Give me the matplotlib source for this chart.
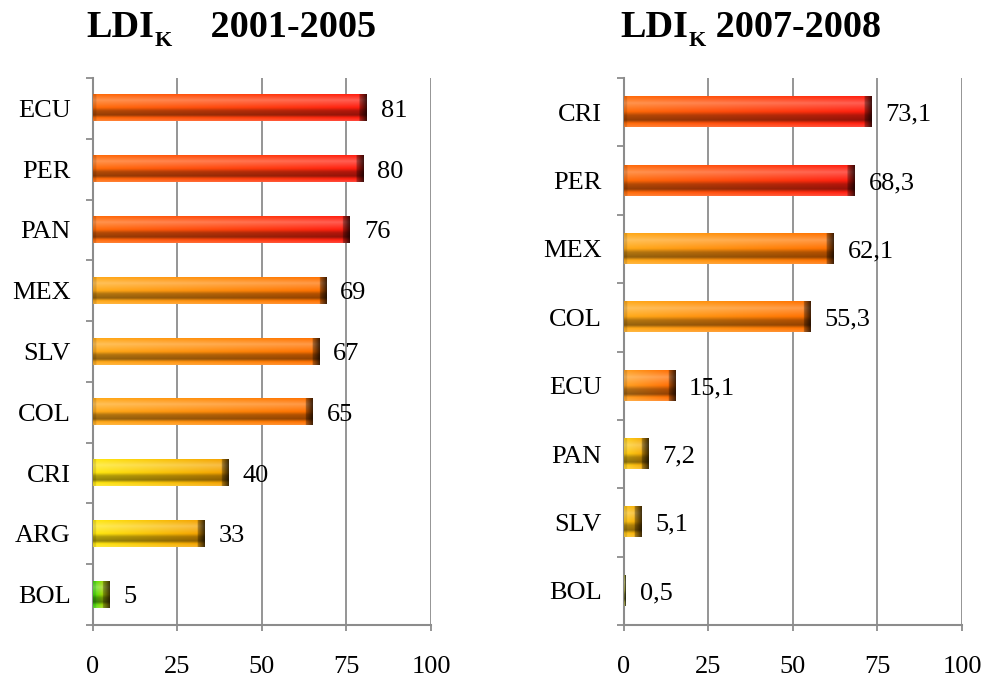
"""
    LDI_K por pais, dos periodos
"""

import numpy as np
import matplotlib.pyplot as plt
from matplotlib.colors import to_rgb

plt.rcParams['font.family'] = ['Liberation Serif', 'DejaVu Serif']

# datos
paises_a = ['ECU', 'PER', 'PAN', 'MEX', 'SLV', 'COL', 'CRI', 'ARG', 'BOL']
ldi_a = [81, 80, 76, 69, 67, 65, 40, 33, 5]
paises_b = ['CRI', 'PER', 'MEX', 'COL', 'ECU', 'PAN', 'SLV', 'BOL']
ldi_b = [73.1, 68.3, 62.1, 55.3, 15.1, 7.2, 5.1, 0.5]
ticks_x = [0, 25, 50, 75, 100]

# colores (izquierda -> derecha de cada barra)
rojo = ('#ff6c08', '#ff1c10')
naranja = ('#ffaa18', '#ff7000')
amarillo = ('#ffe810', '#f4a000')
colores_a = [rojo, rojo, rojo, naranja, naranja, naranja, amarillo, amarillo, ('#40e010', '#e8d000')]
colores_b = [rojo, rojo, naranja, naranja, ('#ffa020', '#ff6800'), ('#ffd018', '#f0a000'),
             ('#ffc818', '#f0a000'), ('#b0b050', '#909040')]

gris = '#8c8c8c'
px_x = 338 / 100  # pixeles por unidad en x


def barra_3d(ax, rect, c1, c2):
    x0, y0 = rect.get_x(), rect.get_y()
    w, h = rect.get_width(), rect.get_height()
    nx, ny = 400, 60
    u = np.linspace(0, 1, nx)
    v = np.linspace(0, 1, ny)
    c1, c2 = np.array(to_rgb(c1)), np.array(to_rgb(c2))
    base = np.outer(1 - u, c1) + np.outer(u, c2)
    img = np.repeat(base[None, :, :], ny, axis=0)
    # perfil vertical: >0 aclara, <0 oscurece
    pv = np.interp(v, [0, .1, .22, .38, .5, .62, .78, .88, 1],
                   [0, .12, .28, .12, 0, -.3, -.42, 0, .18])
    k = pv[:, None, None]
    img = np.where(k > 0, img + (1 - img) * k, img * (1 + k))
    # extremo derecho oscuro (bisel)
    d = (1 - u) * w * px_x
    capw = min(7.0, 0.45 * w * px_x)
    f = np.ones(nx)
    en_cap = d < capw
    f[en_cap] = 0.25 + 0.45 * (d[en_cap] / max(capw, 1e-6))
    dl = u * w * px_x
    f[(dl < 3) & ~en_cap] *= 0.88
    img = np.clip(img * f[None, :, None], 0, 1)
    ax.imshow(img, extent=(x0, x0 + w, y0 + h, y0), origin='upper',
              aspect='auto', interpolation='bilinear', zorder=3)


def grafico(ax, paises, valores, colores, alto):
    n = len(paises)
    y = np.arange(n)
    barras = ax.barh(y, valores, height=alto, color='none', edgecolor='none', zorder=3)
    for rect, (c1, c2) in zip(barras.patches, colores):
        barra_3d(ax, rect, c1, c2)
    for i, val in enumerate(valores):
        txt = ('%g' % val).replace('.', ',')
        ax.annotate(txt, xy=(val, i), xytext=(10, 0), textcoords='offset points',
                    va='center_baseline', ha='left', fontsize=19, zorder=4)
    ax.set_xlim(0, 100)
    ax.set_ylim(n - 0.5, -0.5)
    ax.set_xticks(ticks_x)
    ax.set_xticklabels([str(t) for t in ticks_x], fontsize=19)
    ax.set_yticks(np.arange(n + 1) - 0.5)
    ax.set_yticklabels([])
    ax.set_yticks(y, minor=True)
    ax.set_yticklabels(paises, minor=True, fontsize=19, va='center_baseline')
    ax.tick_params(axis='y', which='major', length=5, width=1.3, color=gris, direction='out')
    ax.tick_params(axis='y', which='minor', length=0, pad=16)
    ax.tick_params(axis='x', length=4.5, width=1.3, color=gris, pad=18)
    ax.grid(axis='x', color=gris, lw=1.3, zorder=1)
    ax.set_axisbelow(True)
    for lado in ['top', 'right']:
        ax.spines[lado].set_visible(False)
    for lado in ['left', 'bottom']:
        ax.spines[lado].set_color(gris)
        ax.spines[lado].set_linewidth(1.5)


def titulo(fig, x, y, anos):
    t1 = fig.text(x, y, 'LDI', fontsize=27.5, fontweight='bold', va='baseline')
    t2 = plt.annotate('K', xy=(1, 0), xycoords=t1, xytext=(0.5, -1), textcoords='offset points',
                      fontsize=16, fontweight='bold', va='baseline', ha='left',
                      annotation_clip=False)
    plt.annotate(anos, xy=(1, 0), xycoords=(t2, t1), va='bottom', ha='left',
                 fontsize=27.5, fontweight='bold', annotation_clip=False)


fig = plt.figure(figsize=(9.87, 6.81), dpi=100)
ax1 = fig.add_axes([93 / 987, 1 - 625 / 681, 338 / 987, 547 / 681])
ax2 = fig.add_axes([624 / 987, 1 - 625 / 681, 338 / 987, 547 / 681])

grafico(ax1, paises_a, ldi_a, colores_a, 0.43)
grafico(ax2, paises_b, ldi_b, colores_b, 0.44)

titulo(fig, 86 / 987, 1 - 37 / 681, '    2001-2005')
titulo(fig, 620 / 987, 1 - 37 / 681, ' 2007-2008')

fig.savefig('out.png', dpi=100)
